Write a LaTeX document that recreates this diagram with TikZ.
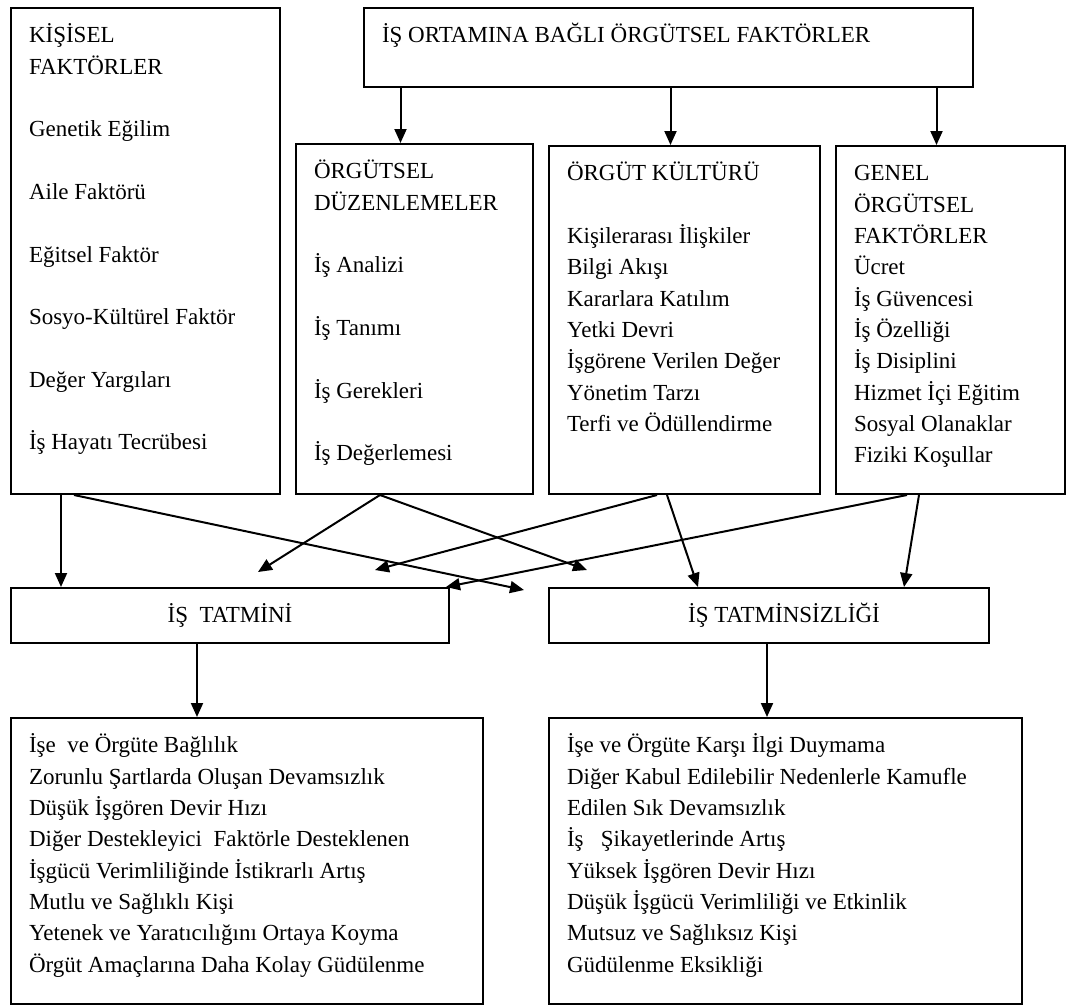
\documentclass[tikz,border=0pt]{standalone}
\usepackage{fontspec}
\setmainfont{Liberation Serif}
\usepackage{tikz}
\usetikzlibrary{positioning, arrows.meta, calc}
\newcommand{\listfont}{\fontsize{23}{31.3}\selectfont}
\newcommand{\boxlines}[3]{\parbox[t][#2][t]{#1}{\raggedright\strut #3}}
\tikzset{
  factor box/.style={
    draw, line width=2pt, anchor=north west,
    inner xsep=18pt, inner ysep=13pt,
    font=\listfont
  },
  result box/.style={
    draw, line width=2pt, anchor=north west,
    minimum height=55pt, inner sep=0pt,
    font=\listfont
  },
  link/.style={
    -{Triangle[length=14pt, width=12pt]},
    line width=2pt
  }
}
\begin{document}
\begin{tikzpicture}[x=1pt, y=-1pt]
  \useasboundingbox (0,0) rectangle (1068,1007);

  % factor boxes
  \node[factor box] (kisisel) at (10,7) {\boxlines{233pt}{460pt}{KİŞİSEL\\FAKTÖRLER\\[\baselineskip]
    Genetik Eğilim\\[\baselineskip] Aile Faktörü\\[\baselineskip] Eğitsel Faktör\\[\baselineskip]
    Sosyo-Kültürel Faktör\\[\baselineskip] Değer Yargıları\\[\baselineskip] İş Hayatı Tecrübesi}};
  \node[factor box] (ortam) at (363,7) {\boxlines{573pt}{53pt}{İŞ ORTAMINA BAĞLI ÖRGÜTSEL FAKTÖRLER}};
  \node[factor box] (duzen) at (295,143) {\boxlines{201pt}{324pt}{ÖRGÜTSEL\\DÜZENLEMELER\\[\baselineskip]
    İş Analizi\\[\baselineskip] İş Tanımı\\[\baselineskip] İş Gerekleri\\[\baselineskip] İş Değerlemesi}};
  \node[factor box] (kultur) at (548,145) {\boxlines{235pt}{322pt}{ÖRGÜT KÜLTÜRÜ\\[\baselineskip]
    Kişilerarası İlişkiler\\ Bilgi Akışı\\ Kararlara Katılım\\ Yetki Devri\\
    İşgörene Verilen Değer\\ Yönetim Tarzı\\ Terfi ve Ödüllendirme}};
  \node[factor box] (genel) at (835,145) {\boxlines{193pt}{322pt}{GENEL\\ÖRGÜTSEL\\FAKTÖRLER\\
    Ücret\\ İş Güvencesi\\ İş Özelliği\\ İş Disiplini\\ Hizmet İçi Eğitim\\
    Sosyal Olanaklar\\ Fiziki Koşullar}};

  % results
  \node[result box, minimum width=438pt] (tatmin) at (10,587) {İŞ~~TATMİNİ};
  \node[result box, minimum width=440pt] (tatminsiz) at (548,587) {\hspace*{30pt}İŞ TATMİNSİZLİĞİ};

  \node[factor box] (olumlu) at (10,717) {\boxlines{436pt}{260pt}{İşe~ ve Örgüte Bağlılık\\
    Zorunlu Şartlarda Oluşan Devamsızlık\\ Düşük İşgören Devir Hızı\\
    Diğer Destekleyici~ Faktörle Desteklenen\\ İşgücü Verimliliğinde İstikrarlı Artış\\
    Mutlu ve Sağlıklı Kişi\\ Yetenek ve Yaratıcılığını Ortaya Koyma\\
    Örgüt Amaçlarına Daha Kolay Güdülenme}};
  \node[factor box] (olumsuz) at (548,717) {\boxlines{437pt}{260pt}{İşe ve Örgüte Karşı İlgi Duymama\\
    Diğer Kabul Edilebilir Nedenlerle Kamufle\\ Edilen Sık Devamsızlık\\
    İş~~ Şikayetlerinde Artış\\ Yüksek İşgören Devir Hızı\\
    Düşük İşgücü Verimliliği ve Etkinlik\\ Mutsuz ve Sağlıksız Kişi\\ Güdülenme Eksikliği}};

  % top box to the three middle boxes
  \foreach \part in {duzen, kultur, genel} {
    \coordinate (\part-in) at ([xshift=-14pt]\part.north);
    \draw[link] (ortam.south -| \part-in) -- (\part-in);
  }

  % start points under the factor boxes
  \coordinate (kis1) at ([xshift=51pt]kisisel.south west);
  \coordinate (kis2) at ([xshift=64pt]kisisel.south west);
  \coordinate (duz1) at ([xshift=85pt]duzen.south west);
  \coordinate (kul1) at ([xshift=109pt]kultur.south west);
  \coordinate (kul2) at ([xshift=119pt]kultur.south west);
  \coordinate (gen1) at ([xshift=72pt]genel.south west);
  \coordinate (gen2) at ([xshift=84pt]genel.south west);

  % free ends
  \coordinate (kis2-end) at ([xshift=-24pt, yshift=-3pt]tatminsiz.north west);
  \coordinate (duz-left) at (258,572);
  \coordinate (duz-right) at (587,570);
  \coordinate (kul-left) at (375,570);

  \draw[link] (kis1) -- (tatmin.north -| kis1);
  \draw[link] (kis2) -- (kis2-end);
  \draw[link] (duz1) -- (duz-left);
  \draw[link] (duz1) -- (duz-right);
  \draw[link] (kul1) -- (kul-left);
  \draw[link] (kul2) -- ([xshift=150pt]tatminsiz.north west);
  \draw[link] (gen1) -- ([xshift=-4pt]tatmin.north east);
  \draw[link] (gen2) -- ([xshift=356pt]tatminsiz.north west);

  % results to their lists
  \coordinate (tat-out) at ([xshift=187pt]tatmin.south west);
  \coordinate (tatsiz-out) at ([xshift=219pt]tatminsiz.south west);
  \draw[link] (tat-out) -- (olumlu.north -| tat-out);
  \draw[link] (tatsiz-out) -- (olumsuz.north -| tatsiz-out);
\end{tikzpicture}
\end{document}
